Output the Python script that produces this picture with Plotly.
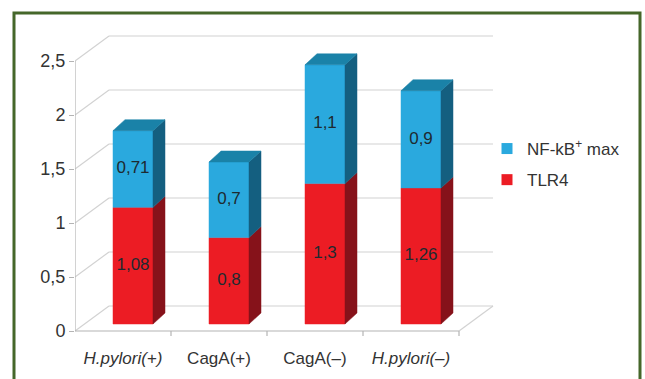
import plotly.graph_objects as go

# ---- data -------------------------------------------------------------
categories = ["<i>H.pylori(+)</i>", "CagA(+)", "CagA(–)", "<i>H.pylori(–)</i>"]
tlr4 = [1.08, 0.8, 1.3, 1.26]
nfkb = [0.71, 0.7, 1.1, 0.9]
series_names = ["NF-kB<sup>+</sup> max", "TLR4"]
y_ticks = [0, 0.5, 1, 1.5, 2, 2.5]
y_tick_text = ["0", "0,5", "1", "1,5", "2", "2,5"]

# ---- geometry (data units) -------------------------------------------
PX_X = 96.0      # pixels per category
PX_Y = 108.0     # pixels per value unit
WALL_DX, WALL_DY = 34 / PX_X, 25 / PX_Y       # depth of the chart box
BAR_OX, BAR_OY = 10 / PX_X, 7 / PX_Y          # bar front plane inside the box
BAR_DX, BAR_DY = 12 / PX_X, 11 / PX_Y         # bar depth
BAR_W = 40 / PX_X
X0, X1 = -0.5, len(categories) - 0.5

FONT = "Liberation Sans, Arial, sans-serif"
GRID = "#d2d2d2"
AXIS = "#b4b4b4"

colors = {
    "blue": dict(front="#2aa9de", top="#1a82a8", side="#145f80"),
    "red": dict(front="#ec1c24", top="#b8151b", side="#86121a"),
}

fig = go.Figure()


def line(xs, ys, color, width=1.2):
    fig.add_trace(go.Scatter(x=xs, y=ys, mode="lines", line=dict(color=color, width=width),
                             hoverinfo="skip", showlegend=False))


def poly(xs, ys, color):
    fig.add_trace(go.Scatter(x=xs + [xs[0]], y=ys + [ys[0]], mode="lines", fill="toself",
                             fillcolor=color, line=dict(color=color, width=0.5),
                             hoverinfo="skip", showlegend=False))


# back wall gridlines and left wall slants
for v in y_ticks:
    line([X0 + WALL_DX, X1 + WALL_DX], [v + WALL_DY, v + WALL_DY], GRID)
    line([X0, X0 + WALL_DX], [v, v + WALL_DY], GRID)
# floor
line([X0, X1], [0, 0], AXIS)
line([X1, X1 + WALL_DX], [0, WALL_DY], GRID)
# front value axis
line([X0, X0], [0, y_ticks[-1]], AXIS)
# category separators below the floor
for k in range(1, len(categories)):
    line([X0 + k, X0 + k], [0, -5 / PX_Y], AXIS)
line([X1, X1], [0, -5 / PX_Y], AXIS)


def fmt(v):
    return ("%g" % v).replace(".", ",")


label_x, label_y, label_t = [], [], []
for i in range(len(categories)):
    cx = i + BAR_OX
    xl, xr = cx - BAR_W / 2, cx + BAR_W / 2
    base = BAR_OY
    segs = [(tlr4[i], "red"), (nfkb[i], "blue")]
    for j, (val, col) in enumerate(segs):
        y0, y1 = base, base + val
        c = colors[col]
        poly([xl, xr, xr, xl], [y0, y0, y1, y1], c["front"])
        poly([xr, xr + BAR_DX, xr + BAR_DX, xr], [y0, y0 + BAR_DY, y1 + BAR_DY, y1], c["side"])
        if j == len(segs) - 1:
            poly([xl, xr, xr + BAR_DX, xl + BAR_DX], [y1, y1, y1 + BAR_DY, y1 + BAR_DY], c["top"])
        label_x.append(cx)
        label_y.append((y0 + y1) / 2)
        label_t.append(fmt(val))
        base = y1

fig.add_trace(go.Scatter(x=label_x, y=label_y, text=label_t, mode="text",
                         textfont=dict(family=FONT, size=17, color="#1e2a30"),
                         hoverinfo="skip", showlegend=False))

# legend entries
fig.add_trace(go.Scatter(x=[X0 - 10], y=[0], mode="markers", name=series_names[0],
                         marker=dict(symbol="square", size=11, color=colors["blue"]["front"]),
                         legendgroup="a", hoverinfo="skip"))
fig.add_trace(go.Scatter(x=[X0 - 10], y=[0], mode="markers", name=series_names[1],
                         marker=dict(symbol="square", size=11, color=colors["red"]["front"]),
                         legendgroup="b", hoverinfo="skip"))

# ---- layout -----------------------------------------------------------
W, H = 645, 379
ML, MR, MT, MB = 75, 145, 30, 39
PW, PH = W - ML - MR, H - MT - MB
Y_ZERO_PX = 331


def paper_x(px):
    return (px - ML) / PW


def paper_y(py):
    return (H - MB - py) / PH


fig.update_layout(
    width=W, height=H,
    margin=dict(l=ML, r=MR, t=MT, b=MB),
    paper_bgcolor="white", plot_bgcolor="white",
    font=dict(family=FONT, size=17, color="#333333"),
    xaxis=dict(range=[X0, X0 + PW / PX_X], tickvals=list(range(len(categories))),
               ticktext=categories, showgrid=False, zeroline=False, showline=False,
               ticks="", tickfont=dict(size=17, color="#333333"), ticklabelstandoff=6,
               fixedrange=True),
    yaxis=dict(range=[-(H - MB - Y_ZERO_PX) / PX_Y, (Y_ZERO_PX - MT) / PX_Y],
               tickvals=y_ticks, ticktext=y_tick_text, showgrid=False, zeroline=False,
               showline=False, ticks="outside", ticklen=5, tickcolor=AXIS,
               tickfont=dict(size=18, color="#333333"), fixedrange=True),
    legend=dict(x=paper_x(487), y=paper_y(131), xanchor="left", yanchor="top",
                font=dict(size=17, color="#333333"), bgcolor="rgba(0,0,0,0)",
                tracegroupgap=6, itemwidth=30),
    shapes=[dict(type="rect", xref="paper", yref="paper",
                 x0=paper_x(14), x1=paper_x(640), y0=paper_y(13), y1=paper_y(395),
                 line=dict(color="#45672a", width=3), layer="above")],
)

fig.write_html("out.html")
